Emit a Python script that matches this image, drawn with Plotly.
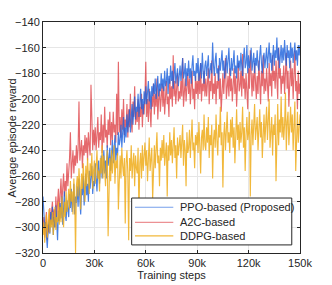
import plotly.graph_objects as go

steps = [i * 500 for i in range(301)]

ppo = [
    -276, -290, -300, -296, -312, -316, -302, -294, -305, -288,
    -298, -284, -306, -292, -300, -283, -296, -310, -287, -295,
    -281, -293, -276, -298, -286, -272, -290, -295, -279, -288,
    -292, -274, -285, -270, -288, -282, -266, -290, -276, -281,
    -268, -284, -262, -278, -290, -270, -275, -260, -283, -272,
    -258, -275, -266, -280, -256, -270, -262, -252, -274, -264,
    -268, -250, -262, -272, -254, -248, -266, -258, -244, -262,
    -255, -240, -258, -248, -262, -236, -252, -246, -238, -256,
    -246, -232, -250, -240, -228, -248, -238, -244, -226, -236,
    -232, -220, -238, -226, -214, -234, -222, -230, -212, -226,
    -218, -208, -226, -212, -204, -220, -210, -198, -216, -206,
    -210, -196, -214, -202, -192, -208, -200, -212, -194, -204,
    -190, -204, -196, -186, -202, -194, -208, -190, -198, -188,
    -196, -184, -200, -190, -182, -198, -188, -194, -180, -192,
    -184, -194, -178, -190, -186, -176, -196, -182, -188, -174,
    -186, -178, -192, -180, -172, -188, -182, -176, -190, -180,
    -174, -186, -178, -168, -184, -180, -172, -190, -176, -182,
    -170, -184, -176, -188, -174, -166, -182, -178, -186, -172,
    -180, -168, -186, -176, -172, -184, -164, -178, -188, -174,
    -170, -182, -176, -166, -184, -178, -172, -180, -156, -174,
    -182, -170, -164, -180, -176, -186, -168, -178, -172, -162,
    -178, -170, -184, -174, -166, -180, -172, -160, -176, -182,
    -168, -178, -172, -162, -180, -174, -184, -166, -176, -170,
    -178, -164, -174, -182, -168, -160, -176, -172, -158, -180,
    -166, -176, -170, -160, -178, -172, -164, -180, -168, -174,
    -162, -174, -178, -166, -158, -172, -180, -168, -164, -176,
    -170, -160, -176, -166, -156, -172, -164, -178, -168, -158,
    -174, -162, -168, -152, -170, -160, -176, -164, -158, -172,
    -160, -170, -154, -166, -174, -158, -168, -162, -176, -156,
    -168, -160, -172, -164, -156, -170, -162, -174, -158, -166,
    -158,
]

a2c = [
    -300, -292, -308, -296, -288, -310, -298, -304, -285, -296,
    -290, -280, -296, -286, -300, -276, -292, -284, -270, -288,
    -278, -262, -282, -268, -258, -276, -264, -272, -250, -268,
    -260, -246, -226, -262, -250, -240, -258, -244, -252, -236,
    -250, -238, -202, -248, -240, -232, -254, -236, -244, -228,
    -242, -230, -248, -226, -236, -244, -189, -232, -240, -224,
    -236, -222, -240, -228, -214, -238, -226, -232, -212, -242,
    -220, -234, -206, -230, -224, -238, -216, -228, -210, -236,
    -218, -232, -210, -226, -220, -234, -196, -228, -171, -226,
    -214, -230, -208, -224, -200, -228, -216, -222, -204, -230,
    -208, -222, -196, -218, -226, -202, -214, -190, -220, -210,
    -218, -200, -224, -206, -214, -196, -222, -204, -212, -198,
    -171, -214, -200, -218, -192, -210, -222, -198, -206, -188,
    -212, -196, -206, -184, -216, -200, -192, -210, -198, -188,
    -206, -190, -212, -196, -186, -204, -198, -214, -184, -200,
    -190, -206, -166, -198, -186, -204, -192, -180, -202, -194,
    -200, -186, -198, -168, -206, -190, -184, -202, -192, -180,
    -196, -184, -204, -190, -178, -200, -192, -208, -182, -196,
    -186, -200, -180, -196, -172, -202, -188, -194, -178, -198,
    -184, -198, -190, -176, -204, -186, -194, -170, -200, -188,
    -196, -180, -204, -186, -192, -174, -200, -184, -210, -188,
    -180, -196, -186, -168, -200, -190, -182, -198, -176, -194,
    -184, -202, -190, -176, -196, -182, -206, -186, -172, -194,
    -190, -178, -198, -165, -192, -184, -200, -180, -194, -208,
    -176, -192, -162, -188, -198, -180, -194, -172, -186, -200,
    -182, -196, -170, -188, -204, -178, -190, -166, -196, -184,
    -194, -176, -188, -202, -172, -190, -180, -198, -166, -186,
    -178, -192, -170, -186, -200, -160, -184, -176, -196, -182,
    -188, -174, -196, -180, -164, -192, -178, -206, -184, -170,
    -190, -176, -200, -182, -162, -194, -186, -208, -178, -196,
    -188,
]

ddpg = [
    -306, -296, -312, -300, -290, -308, -298, -286, -304, -294,
    -300, -288, -306, -294, -284, -302, -292, -296, -280, -298,
    -284, -296, -276, -290, -300, -280, -292, -272, -288, -282,
    -270, -286, -264, -280, -272, -290, -262, -278, -320, -268,
    -260, -276, -254, -268, -286, -258, -270, -250, -266, -280,
    -252, -268, -246, -262, -274, -250, -260, -242, -270, -256,
    -248, -266, -252, -240, -262, -256, -272, -246, -258, -236,
    -262, -244, -256, -268, -250, -240, -307, -258, -246, -264,
    -240, -258, -250, -236, -266, -248, -254, -242, -286, -256,
    -244, -262, -238, -252, -260, -246, -297, -250, -240, -258,
    -310, -246, -256, -236, -262, -250, -242, -268, -244, -254,
    -258, -238, -290, -250, -242, -262, -236, -256, -246, -234,
    -252, -240, -264, -244, -230, -256, -248, -238, -278, -246,
    -236, -254, -242, -226, -250, -244, -268, -238, -248, -232,
    -246, -228, -252, -240, -234, -276, -236, -248, -226, -244,
    -232, -250, -240, -222, -246, -236, -262, -230, -244, -238,
    -228, -246, -236, -220, -252, -232, -240, -268, -226, -242,
    -238, -224, -246, -232, -216, -240, -234, -254, -228, -236,
    -226, -242, -218, -236, -258, -230, -224, -240, -212, -236,
    -240, -222, -234, -214, -246, -228, -236, -220, -262, -232,
    -224, -238, -212, -232, -244, -220, -230, -206, -236, -226,
    -269, -228, -218, -240, -224, -210, -234, -226, -242, -216,
    -230, -214, -238, -222, -250, -226, -208, -232, -220, -240,
    -218, -234, -226, -206, -238, -222, -256, -228, -214, -232,
    -226, -210, -276, -228, -216, -236, -220, -204, -232, -224,
    -214, -240, -222, -208, -230, -218, -246, -226, -212, -234,
    -224, -206, -232, -218, -200, -238, -222, -214, -244, -220,
    -228, -212, -264, -222, -204, -236, -216, -226, -198, -230,
    -214, -232, -220, -195, -240, -218, -210, -236, -222, -206,
    -226, -212, -240, -216, -202, -256, -224, -210, -234, -220,
    -212,
]

series_names = ["PPO-based (Proposed)", "A2C-based", "DDPG-based"]
x_ticks = [0, 30000, 60000, 90000, 120000, 150000]
x_tick_labels = ["0", "30k", "60k", "90k", "120k", "150k"]
y_ticks = [-320, -300, -280, -260, -240, -220, -200, -180, -160, -140]
x_title = "Training steps"
y_title = "Average episode reward"

FONT = "Liberation Sans, Arial, sans-serif"
TXT = "#262626"

colors = {
    "PPO-based (Proposed)": "rgba(25,95,220,0.8)",
    "A2C-based": "rgba(220,55,60,0.75)",
    "DDPG-based": "rgba(238,172,25,0.85)",
}
legend_colors = {
    "PPO-based (Proposed)": "rgba(25,95,220,0.6)",
    "A2C-based": "rgba(220,55,60,0.55)",
    "DDPG-based": "rgba(238,172,25,0.85)",
}

data = {"PPO-based (Proposed)": ppo, "A2C-based": a2c, "DDPG-based": ddpg}

fig = go.Figure()
for name in ["A2C-based", "PPO-based (Proposed)", "DDPG-based"]:
    fig.add_trace(go.Scatter(
        x=steps, y=data[name], mode="lines", name=name,
        line=dict(color=colors[name], width=1.15),
        showlegend=False, hoverinfo="skip",
    ))

axis_common = dict(
    showgrid=True, gridcolor="#e6e6e6", gridwidth=1,
    showline=True, linecolor=TXT, linewidth=1, mirror="ticks",
    ticks="inside", ticklen=3, tickcolor=TXT,
    tickfont=dict(family=FONT, size=11, color=TXT),
    zeroline=False, automargin=False,
)

fig.update_xaxes(range=[0, 150000], tickvals=x_ticks, ticktext=x_tick_labels,
                 title=dict(text=x_title, standoff=2,
                            font=dict(family=FONT, size=11, color=TXT)),
                 **axis_common)
fig.update_yaxes(range=[-320, -140], tickvals=y_ticks, **axis_common)

# custom legend box (MATLAB-style compact legend)
leg_x0, leg_x1, leg_y0, leg_y1 = 0.345, 0.968, 0.035, 0.238
line_x0, line_x1, text_x = 0.358, 0.507, 0.524
row_y = [0.198, 0.133, 0.074]
shapes = [dict(type="rect", xref="paper", yref="paper",
               x0=leg_x0, x1=leg_x1, y0=leg_y0, y1=leg_y1,
               line=dict(color=TXT, width=1), fillcolor="white", layer="above")]
annotations = [dict(xref="paper", yref="paper", x=-0.121, y=0.5, text=y_title,
                    textangle=-90, showarrow=False, xanchor="center", yanchor="middle",
                    font=dict(family=FONT, size=11, color=TXT))]
for name, yy in zip(series_names, row_y):
    shapes.append(dict(type="line", xref="paper", yref="paper",
                       x0=line_x0, x1=line_x1, y0=yy, y1=yy,
                       line=dict(color=legend_colors[name], width=1.2), layer="above"))
    annotations.append(dict(xref="paper", yref="paper", x=text_x, y=yy,
                            text=name, showarrow=False, xanchor="left", yanchor="middle",
                            font=dict(family=FONT, size=11, color=TXT)))

fig.update_layout(
    width=332, height=285,
    margin=dict(l=43, r=32, t=22, b=32),
    paper_bgcolor="white", plot_bgcolor="white",
    showlegend=False, hovermode=False,
    shapes=shapes, annotations=annotations,
)

fig.write_html("out.html", config={"displayModeBar": False, "staticPlot": True},
               post_script="document.body.style.margin='0';document.body.style.overflow='hidden';")
